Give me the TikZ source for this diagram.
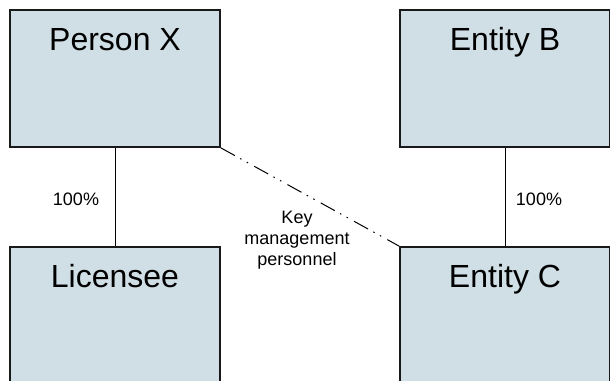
\documentclass[tikz,border=0pt]{standalone}
\usepackage{fontspec}
\setmainfont{Liberation Sans}
\definecolor{boxfill}{RGB}{208,222,229}
\definecolor{boxline}{RGB}{25,25,25}
\begin{document}
\begin{tikzpicture}[x=1pt,y=-1pt,
  box/.style={draw=boxline,fill=boxfill,line width=1.8pt,minimum width=210pt,minimum height=137pt,inner sep=0pt},
  title/.style={anchor=base,font=\fontsize{32}{38}\selectfont,inner sep=0pt},
  small/.style={font=\fontsize{18}{21}\selectfont,inner sep=0pt},
  link/.style={draw=black,line width=1pt},
  kmp/.style={draw=black,line width=1pt,dash pattern=on 16pt off 6pt on 1.5pt off 6pt on 1.5pt off 7pt}]
\useasboundingbox (0,0) rectangle (610,380);
\node[box] (px) at (115,78.5) {};
\node[box] (eb) at (505,78.5) {};
\node[box] (lic) at (115,315.5) {};
\node[box] (ec) at (505,315.5) {};
\node[title] (tpx) at (115,50.7) {Person X};
\node[title] (teb) at (505,50.7) {Entity B};
\node[title] (tlic) at (115,287.7) {Licensee};
\node[title] (tec) at (505,287.7) {Entity C};
\draw[link] (px.south) -- (lic.north);
\draw[link] (eb.south) -- (ec.north);
\draw[kmp] (px.south east) -- (ec.north west);
\node[small,anchor=base] (p1) at (76,205.7) {100\%};
\node[small,anchor=base] (p2) at (539,205.7) {100\%};
\node[small,align=center] (kmpl) at (297,240) {Key\\management\\personnel};
\end{tikzpicture}
\end{document}
